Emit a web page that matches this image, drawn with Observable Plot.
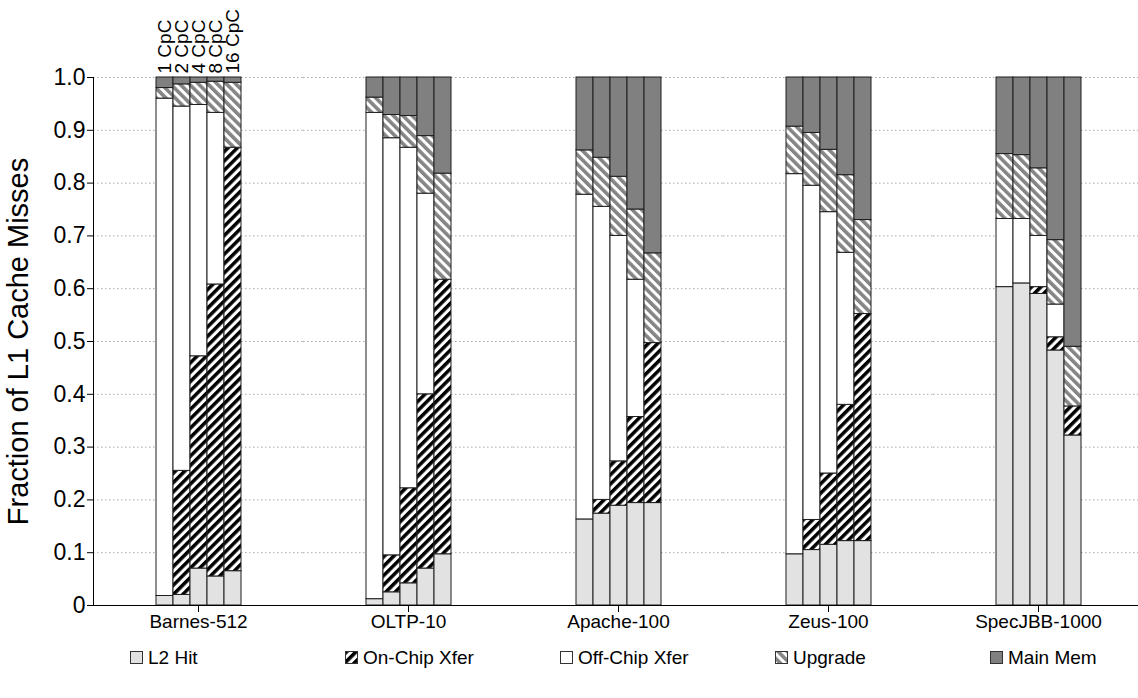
<!DOCTYPE html>
<html><head><meta charset="utf-8">
<script src="https://cdn.jsdelivr.net/npm/d3@7"></script>
<script src="https://cdn.jsdelivr.net/npm/@observablehq/plot@0.6"></script>
<style>
body{margin:0;background:#fff;overflow:hidden;font-family:"Liberation Sans",Arial,sans-serif;}
#legend{position:relative;height:40px;}
.item{position:absolute;top:7px;display:flex;align-items:center;font-size:19px;color:#000;white-space:nowrap;}
.item svg{margin-right:4px;display:block}
</style></head><body>
<svg width="0" height="0" style="position:absolute"><defs>
<pattern id="onchip" patternUnits="userSpaceOnUse" width="6.6" height="6.6" patternTransform="rotate(45)"><rect width="6.6" height="6.6" fill="#fff"/><rect width="3.5" height="6.6" fill="#000"/></pattern>
<pattern id="upgrade" patternUnits="userSpaceOnUse" width="6.6" height="6.6" patternTransform="rotate(-45)"><rect width="6.6" height="6.6" fill="#fff"/><rect width="3.6" height="6.6" fill="#858585"/></pattern>
</defs></svg>
<div id="chart"></div>
<div id="legend"></div>
<script>
const benchmarks = ["Barnes-512", "OLTP-10", "Apache-100", "Zeus-100", "SpecJBB-1000"];
const configs = ["1 CpC", "2 CpC", "4 CpC", "8 CpC", "16 CpC"];
const categories = ["L2 Hit", "On-Chip Xfer", "Off-Chip Xfer", "Upgrade", "Main Mem"];
const fills = ["#e2e2e2", "url(#onchip)", "#ffffff", "url(#upgrade)", "#808080"];

// segment heights, one inner array per benchmark, one value per configuration
const l2Hit = [
  [0.018, 0.020, 0.070, 0.055, 0.065],
  [0.012, 0.025, 0.042, 0.070, 0.097],
  [0.163, 0.174, 0.189, 0.194, 0.194],
  [0.097, 0.105, 0.115, 0.122, 0.122],
  [0.603, 0.610, 0.590, 0.483, 0.322]
];
const onChipXfer = [
  [0.000, 0.235, 0.402, 0.553, 0.802],
  [0.000, 0.070, 0.180, 0.330, 0.520],
  [0.000, 0.026, 0.084, 0.163, 0.303],
  [0.000, 0.057, 0.135, 0.258, 0.430],
  [0.000, 0.000, 0.013, 0.025, 0.055]
];
const offChipXfer = [
  [0.942, 0.690, 0.476, 0.325, 0.000],
  [0.921, 0.790, 0.645, 0.380, 0.000],
  [0.615, 0.555, 0.427, 0.260, 0.000],
  [0.720, 0.633, 0.495, 0.288, 0.000],
  [0.129, 0.122, 0.097, 0.062, 0.000]
];
const upgrade = [
  [0.020, 0.042, 0.042, 0.059, 0.123],
  [0.029, 0.044, 0.060, 0.109, 0.201],
  [0.084, 0.093, 0.112, 0.133, 0.170],
  [0.090, 0.100, 0.118, 0.147, 0.178],
  [0.123, 0.121, 0.128, 0.122, 0.113]
];
const mainMem = [
  [0.020, 0.013, 0.010, 0.008, 0.010],
  [0.038, 0.071, 0.073, 0.111, 0.182],
  [0.138, 0.152, 0.188, 0.250, 0.333],
  [0.093, 0.105, 0.137, 0.185, 0.270],
  [0.145, 0.147, 0.172, 0.308, 0.510]
];
const yTicks = [0, 0.1, 0.2, 0.3, 0.4, 0.5, 0.6, 0.7, 0.8, 0.9, 1.0];

const series = [l2Hit, onChipXfer, offChipXfer, upgrade, mainMem];
const rows = [];
benchmarks.forEach((b, bi) => configs.forEach((c, ci) => categories.forEach((cat, k) => {
  const v = series[k][bi][ci];
  if (v > 0) rows.push({bench: b, config: c, category: cat, value: v});
})));

const chart = Plot.plot({
  width: 1138, height: 640,
  marginTop: 77, marginBottom: 35, marginLeft: 93, marginRight: -5,
  style: {fontFamily: '"Liberation Sans", Arial, sans-serif', background: "#fff", color: "#000"},
  fx: {domain: benchmarks, padding: 0, label: null, axis: null},
  x: {domain: configs, paddingInner: 0, paddingOuter: 3.5, align: 0.5, axis: null},
  y: {domain: [0, 1]},
  color: {domain: categories, range: fills},
  marks: [
    Plot.gridY(yTicks, {stroke: "#a8a8a8", strokeOpacity: 1, strokeDasharray: "1.5,2.5"}),
    Plot.barY(rows, Plot.stackY({fx: "bench", x: "config", y: "value", fill: "category", order: categories, stroke: "#1e1e1e", strokeWidth: 1})),
    Plot.ruleY([0], {stroke: "#000"}),
    Plot.frame({anchor: "left", facetAnchor: "left", stroke: "#000"}),
    Plot.axisY({ticks: yTicks, tickFormat: d => d === 0 ? "0" : d.toFixed(1), tickSize: 6, tickPadding: 2, fontSize: 23, label: null}),
    Plot.axisY({ticks: [], label: "Fraction of L1 Cache Misses", labelAnchor: "center", labelArrow: "none", labelOffset: 86, fontSize: 29, dy: 27}),
    Plot.axisFx({anchor: "bottom", tickSize: 7, tickPadding: 2, fontSize: 19, label: null}),
    Plot.text(configs, {fx: () => benchmarks[0], x: d => d, y: () => 1, text: d => d, rotate: -90, textAnchor: "start", dy: -4, fontSize: 19})
  ]
});
document.getElementById("chart").appendChild(chart);

const legend = document.getElementById("legend");
categories.forEach((cat, i) => {
  const item = document.createElement("div");
  item.className = "item";
  item.style.left = (130 + i * 215) + "px";
  item.innerHTML = `<svg width="14" height="14"><rect x="0.5" y="0.5" width="12" height="12" fill="${fills[i]}" stroke="#333" stroke-width="1"/></svg><span>${cat}</span>`;
  legend.appendChild(item);
});
</script>
</body></html>
